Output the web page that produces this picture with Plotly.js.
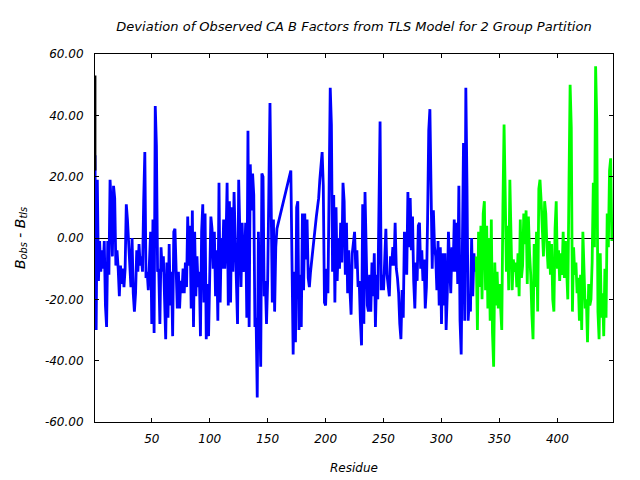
<!DOCTYPE html>
<html>
<head>
<meta charset="utf-8">
<script src="https://cdn.plot.ly/plotly-3.0.1.min.js"></script>
<style>html,body{margin:0;padding:0;background:#fff;}#chart{width:640px;height:480px;}</style>
</head>
<body>
<div id="chart"></div>
<script>
// Black marker segment at the first residue
const blackResidues = [1, 1];
const blackValues = [53, 22];

// Group 1 (blue), first stretch: residues 1..158
const blueStartA = 1;
const blueValuesA = [
  27, -30, 19, -14, -1, -11, -4, -10, -1, -22,
  -29, -1, -12, 19, 11, -6, 17, 13, -9, -4,
  -10, -19, -9, -15, -10, -16, -10, 11, 6, -1,
  -10, -16, 0, -18, -24, -18, -4, -11, -2, -9,
  -6, -11, 12, 28, -13, -11, -17, -7, 2, -28,
  6, -31, 43, 30, -11, -10, -28, -3, -11, -6,
  -19, -33, -8, -26, -2, -22, -11, -32, 2, 3,
  -10, -23, -11, -23, -14, -18, -10, -18, -8, -16,
  7, -9, 4, -23, 9, -29, 2, -19, -6, -16,
  -11, -32, 2, 11, -21, 8, -33, -15, -32, -13,
  7, 3, -10, 2, -19, -4, -27, 18, -21, 0,
  -10, 6, -10, -2, 18, -22, 12, -21, 10, -11,
  15, 0, -14, -28, 19, 5, -16, 5, -11, -8,
  5, -26, 35, -29, 24, 9, 21, 14, -29, -26,
  -52, 2, -27, -42, 21, 20, -19, -14, -28, -14,
  15, 44, 12, -21, 6, -24, -3, 3
];

// Group 1 (blue), second stretch: residues 170..329
const blueStartB = 170;
const blueValuesB = [
  22, -17, -38, -11, -34, 10, 12, -30, -12, -29,
  8, -17, 8, -7, 6, -13, -16, -11, -7, -3,
  0, 4, 7, 10, 13, 19, 23, 28, 17, -21,
  -22, -10, -18, 22, 49, 37, -11, 14, -21, 10,
  -14, 0, -10, 5, -8, 18, 12, -12, 5, -18,
  -4, -17, -25, -5, 0, 2, -10, -4, -16, -14,
  -27, -35, 11, -28, 15, 0, -22, -24, -12, -24,
  -8, -19, -5, -29, -12, -20, 11, 38, -17, -12,
  -17, -5, 3, -12, -16, -19, -6, -9, -3, -9,
  5, -10, -13, -18, -28, -33, -17, -26, 2, -2,
  -12, 15, -3, 13, -4, 7, -14, -23, -8, -14,
  4, 5, -10, -4, -14, -7, -23, -16, 6, 35,
  42, 13, -10, 9, -3, -6, -17, -1, -22, -3,
  -28, -5, -22, -5, -30, -18, 2, -9, -18, -3,
  -11, 6, -11, 5, -15, 17, -27, -38, 3, 31,
  -27, 49, 17, -27, -20, -24, 0, -19, -5, -11
];

// Group 2 (green): residues 330..447
const greenStart = 330;
const greenValues = [
  -6, -30, 2, -16, 4, -20, 8, 12, -17, 4,
  -23, 0, -27, 6, -31, -42, -8, -22, -11, -23,
  -15, -24, -30, 10, 37, 14, -11, 4, -17, 19,
  3, -17, -7, -11, -8, -16, -5, -19, 6, -13,
  -9, 8, -2, 9, -15, 7, -5, -12, -25, -33,
  -2, -16, 2, -24, 16, 19, 12, -1, -6, 12,
  8, -3, -10, -1, -12, -2, -20, -24, 3, 12,
  -10, -4, -14, -5, -12, 2, -13, -1, -12, -20,
  17, 50, 36, -24, -3, -12, -8, -18, -13, -27,
  -12, -30, 2, -8, -23, -20, -34, -15, -22, -20,
  -8, 18, -3, 56, 38, -24, -33, -5, -26, -18,
  -32, -10, -26, 8, -3, 22, 26, -1
];

const yTickVals = [-60, -40, -20, 0, 20, 40, 60];
const xTickVals = [50, 100, 150, 200, 250, 300, 350, 400];

function residues(start, n) { const r = []; for (let i = 0; i < n; i++) r.push(start + i); return r; }

const blueX = residues(blueStartA, blueValuesA.length).concat(residues(blueStartB, blueValuesB.length));
const blueY = blueValuesA.concat(blueValuesB);
const greenX = residues(greenStart, greenValues.length);

const fontIt = {family: 'DejaVu Sans', size: 12, color: '#000', style: 'italic'};

const traces = [
  {x: blueX, y: blueY, type: 'scatter', mode: 'lines', line: {color: '#0000ff', width: 2.8}, hoverinfo: 'skip'},
  {x: greenX, y: greenValues, type: 'scatter', mode: 'lines', line: {color: '#00ff00', width: 2.8}, hoverinfo: 'skip'},
  {x: blackResidues, y: blackValues, type: 'scatter', mode: 'lines', line: {color: '#000000', width: 2.8}, hoverinfo: 'skip'}
];

const layout = {
  width: 640, height: 480,
  margin: {l: 95, r: 27, t: 54, b: 58},
  paper_bgcolor: '#fff', plot_bgcolor: '#fff',
  showlegend: false,
  title: {text: 'Deviation of Observed CA B Factors from TLS Model for 2 Group Partition',
          font: {family: 'DejaVu Sans', size: 13, color: '#000', style: 'italic'},
          xref: 'paper', x: 0.5, xanchor: 'center', yref: 'container', y: 0.944, yanchor: 'middle'},
  xaxis: {
    range: [1, 448], tickvals: xTickVals, ticktext: xTickVals.map(String),
    ticks: 'inside', ticklen: 4, tickcolor: '#000', tickwidth: 1,
    showline: true, linecolor: '#000', linewidth: 1, mirror: 'ticks',
    showgrid: false, zeroline: false, tickfont: fontIt, ticklabelstandoff: 6,
    title: {text: 'Residue', font: fontIt, standoff: 18}
  },
  yaxis: {
    range: [-60, 60], tickvals: yTickVals, ticktext: yTickVals.map(v => v.toFixed(2)),
    ticks: 'inside', ticklen: 4, tickcolor: '#000', tickwidth: 1,
    showline: true, linecolor: '#000', linewidth: 1, mirror: 'ticks',
    showgrid: false, zeroline: true, zerolinecolor: '#000', zerolinewidth: 1,
    tickfont: fontIt, ticklabelstandoff: 8,
    title: {text: 'B<sub>obs</sub> - B<sub>tls</sub>', font: {family: 'DejaVu Sans', size: 14, color: '#000', style: 'italic'}, standoff: 16}
  }
};

Plotly.newPlot('chart', traces, layout, {staticPlot: true, displayModeBar: false});
</script>
</body>
</html>
